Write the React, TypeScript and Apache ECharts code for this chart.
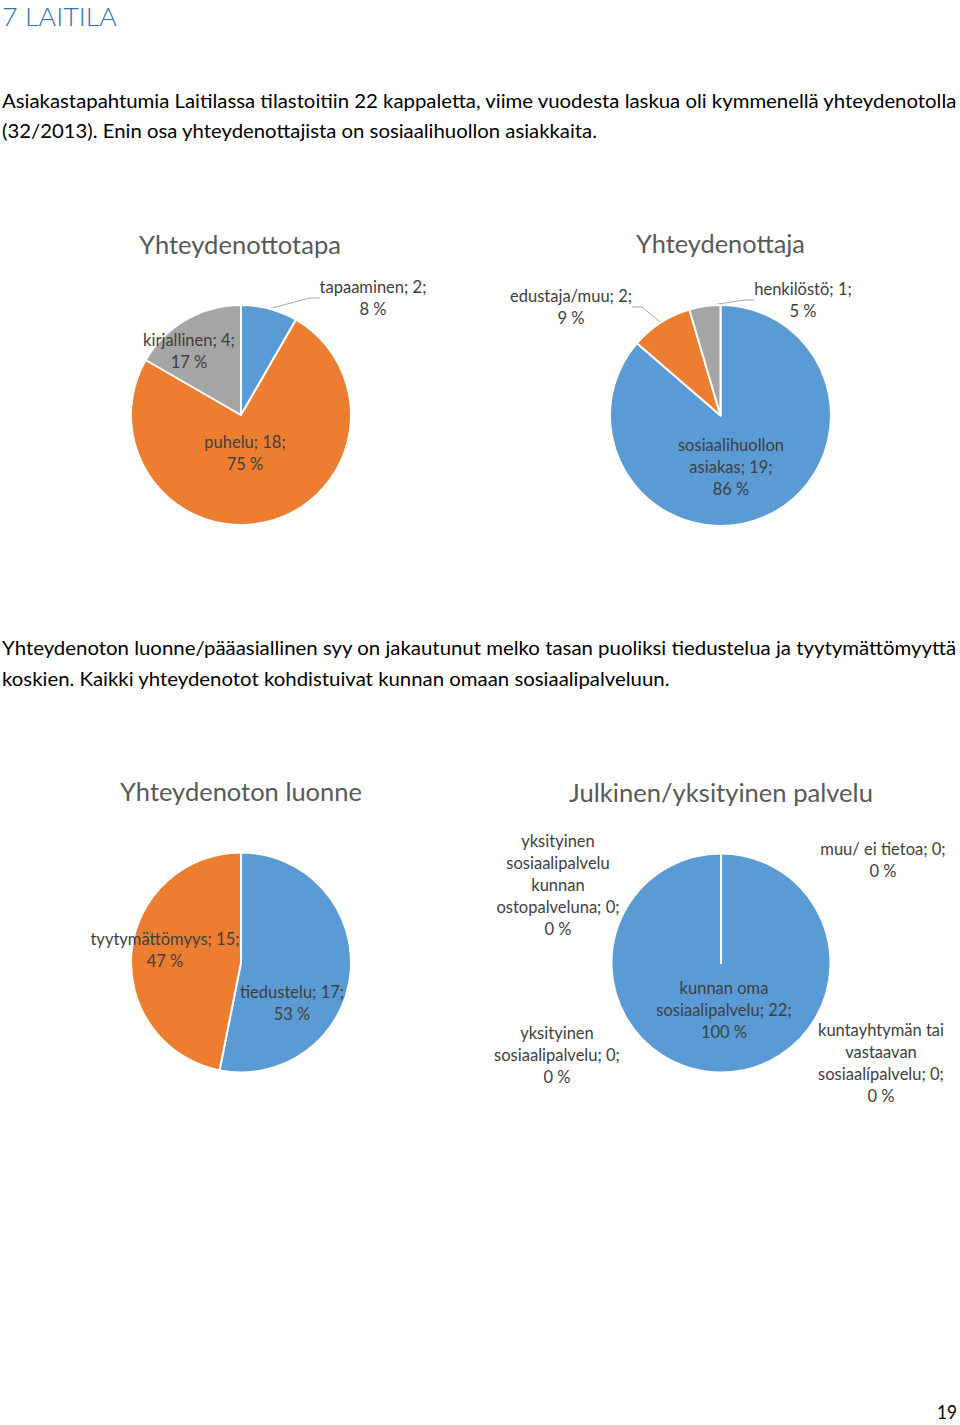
import React, { useEffect, useRef } from "react";
import * as echarts from "echarts";

const FONT = "Lato, 'Open Sans', sans-serif";
const PAGE_W = 960;
const PAGE_H = 1425;

// ---- Text content ----
const headingText = "7 LAITILA";
const introLines = [
  "Asiakastapahtumia Laitilassa tilastoitiin 22 kappaletta, viime vuodesta laskua oli kymmenellä yhteydenotolla",
  "(32/2013). Enin osa yhteydenottajista on sosiaalihuollon asiakkaita.",
];
const middleLines = [
  "Yhteydenoton luonne/pääasiallinen syy on jakautunut melko tasan puoliksi tiedustelua ja tyytymättömyyttä",
  "koskien. Kaikki yhteydenotot kohdistuivat kunnan omaan sosiaalipalveluun.",
];
const pageNumber = "19";
const chartTitles = ["Yhteydenottotapa", "Yhteydenottaja", "Yhteydenoton luonne", "Julkinen/yksityinen palvelu"];

// ---- Data ----
const tapaNames = ["tapaaminen", "puhelu", "kirjallinen"];
const tapaValues = [2, 18, 4];
const ottajaNames = ["sosiaalihuollon\nasiakas", "edustaja/muu", "henkilöstö"];
const ottajaValues = [19, 2, 1];
const luonneNames = ["tiedustelu", "tyytymättömyys"];
const luonneValues = [17, 15];
const palveluNames = [
  "kunnan oma\nsosiaalipalvelu",
  "kuntayhtymän tai\nvastaavan\nsosiaalípalvelu",
  "muu/ ei tietoa",
  "yksityinen\nsosiaalipalvelu\nkunnan\nostopalveluna",
  "yksityinen\nsosiaalipalvelu",
];
const palveluValues = [22, 0, 0, 0, 0];

const palette = ["#5B9BD5", "#ED7D31", "#A5A5A5", "#FFC000", "#4472C4"];

// ---- Layout (positions / sizes only) ----
const pieLayout = [
  { center: [241, 415], r: 110, title: [240, 244], titleW: 202 },
  { center: [720.5, 415.5], r: 110.5, title: [720.5, 243], titleW: 169 },
  { center: [241, 962.5], r: 110, title: [241, 791], titleW: 242 },
  { center: [721, 963], r: 109.5, title: [721, 792], titleW: 304 },
];
const labelAnchors: number[][][] = [
  [[373, 298], [245, 453], [189, 351]],
  [[731, 467], [571, 307], [803, 300]],
  [[292, 1003], [165, 950]],
  [[724, 1010], [881, 1063], [883, 860], [558, 885], [557, 1055]],
];
const leaderItems: number[][] = [[0], [1, 2], [], []];

let measureCtx: CanvasRenderingContext2D | null = null;
function measure(text: string, size: number, weight: string | number = "normal") {
  if (!measureCtx) measureCtx = document.createElement("canvas").getContext("2d");
  if (!measureCtx) return 0;
  measureCtx.font = `${weight} ${size}px ${FONT}`;
  return measureCtx.measureText(text).width;
}

function textEl(
  text: string,
  x: number,
  y: number,
  size: number,
  color: string,
  targetW: number,
  align: string = "left",
  weight: string | number = "normal"
) {
  const w = measure(text, size, weight);
  const sx = w > 0 && targetW > 0 ? targetW / w : 1;
  return {
    type: "text",
    x,
    y,
    scaleX: sx,
    silent: true,
    style: {
      text,
      fill: color,
      fontSize: size,
      fontFamily: FONT,
      fontWeight: weight,
      align,
      verticalAlign: "middle",
      textAlign: align,
      textVerticalAlign: "middle",
    },
  };
}

function buildOption() {
  const w1 = measure("tapaaminen; 2;", 100);
  const labelSize = w1 > 0 ? Math.max(14, Math.min(18, (100 * 107) / w1)) : 16;

  const sets = [
    { names: tapaNames, values: tapaValues },
    { names: ottajaNames, values: ottajaValues },
    { names: luonneNames, values: luonneValues },
    { names: palveluNames, values: palveluValues },
  ];

  const series = sets.map((s, idx) => {
    const total = s.values.reduce((a, b) => a + b, 0);
    const lay = pieLayout[idx];
    return {
      type: "pie",
      center: lay.center,
      radius: [0, lay.r],
      startAngle: 90,
      clockwise: true,
      avoidLabelOverlap: false,
      silent: true,
      itemStyle: { borderColor: "#ffffff", borderWidth: 2 },
      label: {
        show: true,
        position: "inside",
        color: "#404040",
        fontFamily: FONT,
        fontSize: labelSize,
        lineHeight: 22,
        formatter: (p: any) => `${p.name}; ${p.value};\n${Math.round((p.value / total) * 100)} %`,
      },
      labelLine: { show: false },
      labelLayout: (p: any) => {
        const a = labelAnchors[idx][p.dataIndex];
        return { x: a[0], y: a[1], align: "center", verticalAlign: "middle" };
      },
      data: s.names.map((n, i) => {
        const item: any = { name: n, value: s.values[i], itemStyle: { color: palette[i] } };
        if (leaderItems[idx].includes(i)) {
          item.label = { position: "outside" };
          item.labelLine = {
            show: true,
            length: 8,
            length2: 10,
            lineStyle: { color: "#A6A6A6", width: 1 },
          };
        }
        return item;
      }),
    };
  });

  const graphics: any[] = [
    textEl(headingText, 2, 16, 26, "#2E74B5", 115, "left", 300),
    textEl(introLines[0], 2, 100.5, 19.5, "#000000", 956),
    textEl(introLines[1], 2, 130.5, 19.5, "#000000", 596),
    textEl(middleLines[0], 2, 647.5, 19.5, "#000000", 955),
    textEl(middleLines[1], 2, 678, 19.5, "#000000", 668),
    textEl(pageNumber, 957, 1412, 19.5, "#000000", 20, "right"),
  ];
  chartTitles.forEach((t, i) => {
    const lay = pieLayout[i];
    graphics.push(textEl(t, lay.title[0], lay.title[1], 24.5, "#595959", lay.titleW, "center"));
  });

  return {
    animation: false,
    backgroundColor: "#ffffff",
    graphic: { elements: graphics },
    series,
  };
}

export default function App() {
  const ref = useRef<HTMLDivElement>(null);
  useEffect(() => {
    if (!ref.current) return;
    const chart = echarts.init(ref.current, null, { renderer: "svg" });
    chart.setOption(buildOption() as any);
    return () => chart.dispose();
  }, []);
  return (
    <div
      ref={ref}
      style={{ position: "absolute", left: 0, top: 0, width: PAGE_W, height: PAGE_H, background: "#ffffff" }}
    />
  );
}
